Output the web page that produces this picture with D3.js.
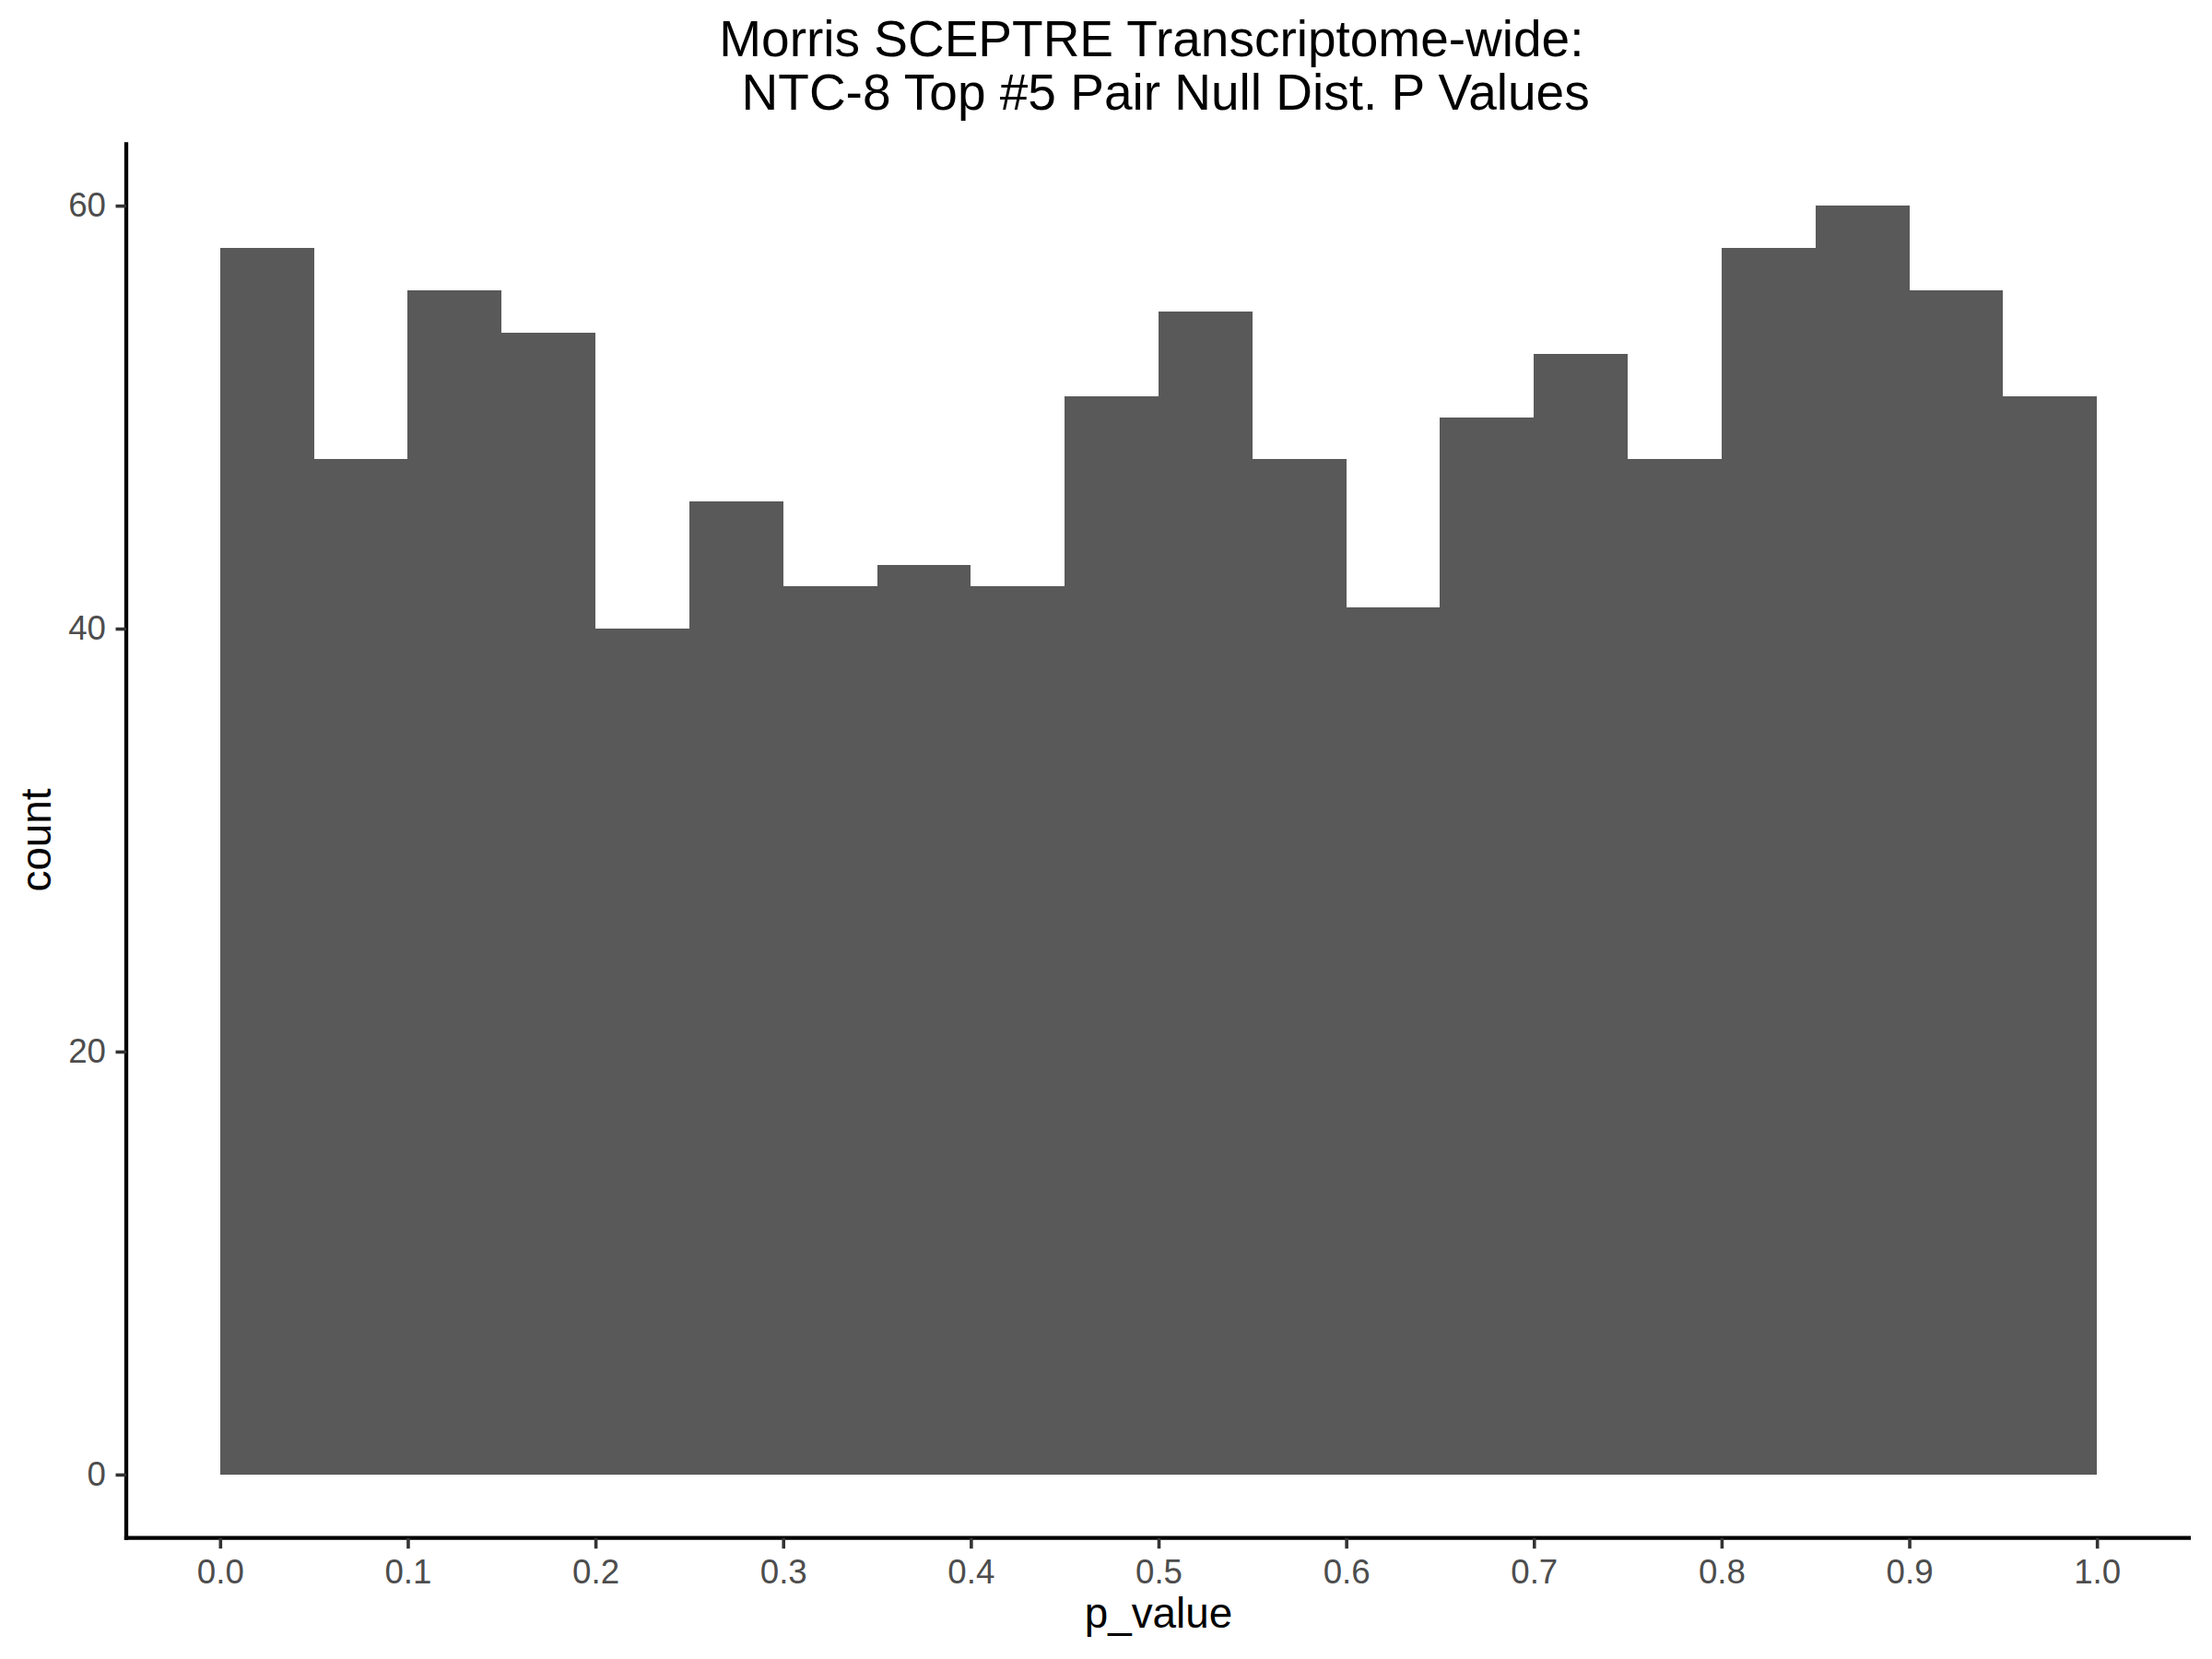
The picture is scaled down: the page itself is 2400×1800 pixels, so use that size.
<!DOCTYPE html>
<html>
<head>
<meta charset="utf-8">
<script src="https://cdn.jsdelivr.net/npm/d3@7"></script>
<style>
  body { margin: 0; background: #fff; }
  svg { display: block; }
  text { font-family: "Liberation Sans", Arial, sans-serif; }
</style>
</head>
<body>
<script>
// ---- data ----
const binStarts = [0.00, 0.05, 0.10, 0.15, 0.20, 0.25, 0.30, 0.35, 0.40, 0.45,
                   0.50, 0.55, 0.60, 0.65, 0.70, 0.75, 0.80, 0.85, 0.90, 0.95];
const binWidth = 0.05;
const counts = [58, 48, 56, 54, 40, 46, 42, 43, 42, 51,
                55, 48, 41, 50, 53, 48, 58, 60, 56, 51];
const xTicks = [0.0, 0.1, 0.2, 0.3, 0.4, 0.5, 0.6, 0.7, 0.8, 0.9, 1.0];
const yTicks = [0, 20, 40, 60];
const titleLines = ["Morris SCEPTRE Transcriptome-wide: ", " NTC-8 Top #5 Pair Null Dist. P Values"];
const xLabel = "p_value";
const yLabel = "count";

// ---- layout ----
const W = 2400, H = 1800;
const panel = { left: 137, right: 2377, top: 154.3, bottom: 1668.7 };

const svg = d3.select("body").append("svg")
  .attr("width", W).attr("height", H);

svg.append("rect").attr("width", W).attr("height", H).attr("fill", "#fff");

const x = d3.scaleLinear().domain([-0.05, 1.05]).range([panel.left, panel.right]);
const y = d3.scaleLinear().domain([-3, 63]).range([panel.bottom, panel.top]);

// bars
svg.append("g").selectAll("rect")
  .data(binStarts.map((s, i) => ({ s, c: counts[i] })))
  .join("rect")
  .attr("x", d => x(d.s))
  .attr("width", d => x(d.s + binWidth) - x(d.s))
  .attr("y", d => y(d.c))
  .attr("height", d => y(0) - y(d.c))
  .attr("fill", "#595959")
  .attr("shape-rendering", "crispEdges");

// axes
const xAxis = d3.axisBottom(x).tickValues(xTicks).tickFormat(d3.format(".1f"))
  .tickSize(11.5).tickPadding(10).tickSizeOuter(0);
const yAxis = d3.axisLeft(y).tickValues(yTicks).tickFormat(d3.format("d"))
  .tickSize(11.5).tickPadding(10).tickSizeOuter(0);

const gx = svg.append("g").attr("transform", `translate(0,${panel.bottom})`).call(xAxis);
const gy = svg.append("g").attr("transform", `translate(${panel.left},0)`).call(yAxis);

[gx, gy].forEach(g => {
  g.select(".domain").attr("stroke", "#000").attr("stroke-width", 4.3);
  g.selectAll(".tick line").attr("stroke", "#333333").attr("stroke-width", 3.6);
  g.selectAll(".tick text").attr("fill", "#4D4D4D").attr("font-size", 36.7)
    .attr("font-family", "Liberation Sans, Arial, sans-serif");
});
gx.select(".domain").attr("d", `M${panel.left - 2.15},0H${panel.right}`);
gy.select(".domain").attr("d", `M0,${panel.top}V${panel.bottom + 2.15}`);
gx.selectAll(".tick text").attr("dy", "0.71em").attr("y", 23);
gy.selectAll(".tick text").attr("x", -22);

// axis titles
svg.append("text")
  .attr("x", (panel.left + panel.right) / 2)
  .attr("y", 1766)
  .attr("text-anchor", "middle")
  .attr("font-size", 45.8)
  .attr("fill", "#000")
  .text(xLabel);

svg.append("text")
  .attr("transform", `translate(55,${(panel.top + panel.bottom) / 2}) rotate(-90)`)
  .attr("text-anchor", "middle")
  .attr("font-size", 45.8)
  .attr("fill", "#000")
  .text(yLabel);

// title
const cx = (panel.left + panel.right) / 2;
svg.append("g").selectAll("text")
  .data(titleLines)
  .join("text")
  .attr("x", cx)
  .attr("y", (d, i) => 61 + i * 58)
  .attr("text-anchor", "middle")
  .attr("font-size", 55)
  .attr("fill", "#000")
  .attr("xml:space", "preserve")
  .style("white-space", "pre")
  .text(d => d);
</script>
</body>
</html>
